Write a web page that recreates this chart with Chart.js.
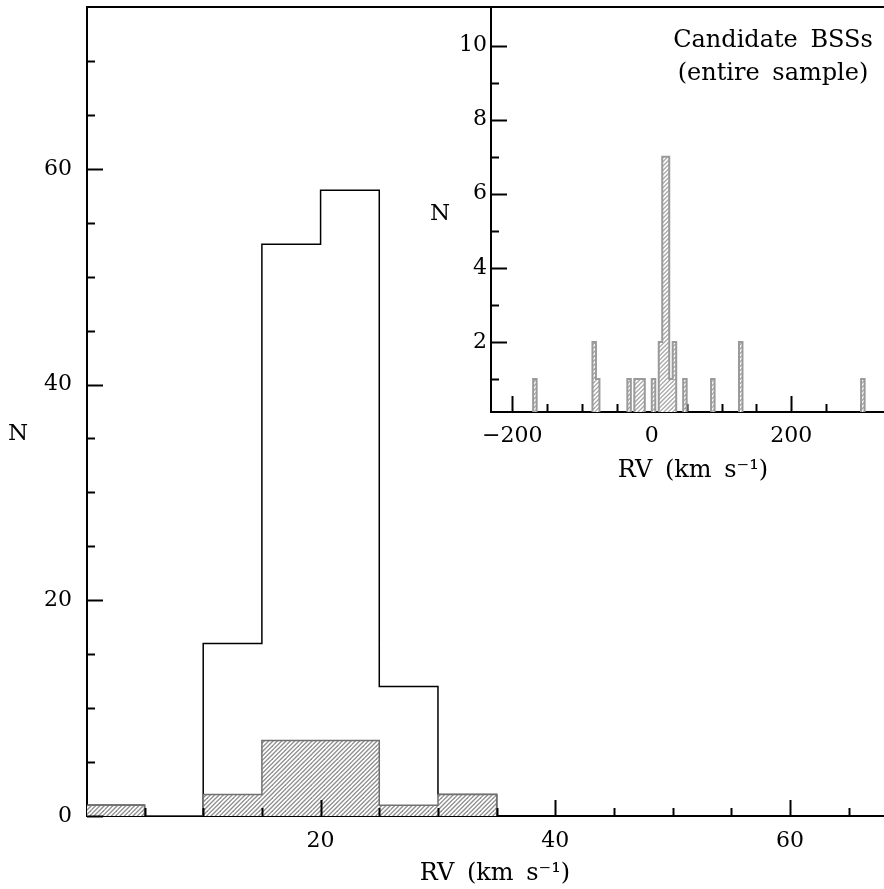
<!DOCTYPE html>
<html>
<head>
<meta charset="utf-8">
<script src="https://cdn.jsdelivr.net/npm/chart.js@4.4.1/dist/chart.umd.min.js"></script>
<style>
  html, body { margin: 0; padding: 0; background: #fff; overflow: hidden; }
  #wrap { position: relative; width: 884px; height: 889px; }
  #mainChart { position: absolute; left: 0; top: 0; }
  #insetChart { position: absolute; left: 400px; top: 0; }
</style>
</head>
<body>
<div id="wrap">
  <canvas id="mainChart" width="884" height="889"></canvas>
  <canvas id="insetChart" width="484" height="500"></canvas>
</div>
<script>
// radial velocity histograms, 5 km/s bins given by their left edge
const binWidth = 5;
const mainBinStart = [0, 10, 15, 20, 25, 30];
const mainAll = [1, 16, 53, 58, 12, 2];
const mainBss = [1, 2, 7, 7, 1, 2];

const insetBinStart = [-170, -85, -80, -35, -25, -20, -15, 0, 10, 15, 20, 25, 30, 45, 85, 125, 300];
const insetBss = [1, 2, 1, 1, 1, 1, 1, 1, 2, 7, 7, 1, 2, 1, 1, 2, 1];

// tick marks and the ones that carry a label
const mainXTicks = [5, 10, 15, 20, 25, 30, 35, 40, 45, 50, 55, 60, 65];
const mainXLabels = [20, 40, 60];
const mainYTicks = [0, 5, 10, 15, 20, 25, 30, 35, 40, 45, 50, 55, 60, 65, 70];
const mainYLabels = [0, 20, 40, 60];
const insetXTicks = [-200, -150, -100, -50, 0, 50, 100, 150, 200, 250, 300];
const insetXLabels = [-200, 0, 200];
const insetYTicks = [1, 2, 3, 4, 5, 6, 7, 8, 9, 10];
const insetYLabels = [2, 4, 6, 8, 10];

const serif = 'DejaVu Serif';

// histogram outline as step points (horizontal segment first)
function stepPoints(starts, counts) {
  const pts = [{ x: starts[0], y: 0 }];
  starts.forEach((x0, i) => {
    if (i > 0 && starts[i - 1] + binWidth !== x0) pts.push({ x: starts[i - 1] + binWidth, y: 0 });
    pts.push({ x: x0, y: counts[i] });
  });
  pts.push({ x: starts[starts.length - 1] + binWidth, y: 0 });
  return pts;
}

function hatch(color, bg) {
  const size = 13;
  const c = document.createElement('canvas');
  c.width = c.height = size;
  const g = c.getContext('2d');
  if (bg) { g.fillStyle = bg; g.fillRect(0, 0, size, size); }
  g.strokeStyle = color;
  g.lineWidth = 1.3;
  const step = size / 3;
  for (let k = -1; k <= 7; k++) {
    const c0 = k * step;
    g.beginPath();
    g.moveTo(c0 + 3, -3);
    g.lineTo(-3, c0 + 3);
    g.stroke();
  }
  return g.createPattern(c, 'repeat');
}

// inward tick marks, plus the top frame line
const innerTicks = {
  id: 'innerTicks',
  drawTicks(chart, opts) {
    const { ctx, chartArea: a } = chart;
    const xs = chart.scales.x, ys = chart.scales.y;
    ctx.save();
    ctx.strokeStyle = '#000';
    ctx.lineWidth = 2;
    ctx.lineCap = 'butt';
    xs.ticks.forEach(t => {
      const px = Math.round(xs.getPixelForValue(t.value)) + 0.5;
      const len = opts.xMajor.includes(t.value) ? 16 : 8;
      ctx.beginPath(); ctx.moveTo(px, a.bottom); ctx.lineTo(px, a.bottom - len); ctx.stroke();
    });
    ys.ticks.forEach(t => {
      const py = Math.round(ys.getPixelForValue(t.value)) + 0.5;
      const len = opts.yMajor.includes(t.value) ? 16 : 8;
      ctx.beginPath(); ctx.moveTo(a.left, py); ctx.lineTo(a.left + len, py); ctx.stroke();
    });
    if (opts.topFrame) {
      ctx.beginPath(); ctx.moveTo(a.left - 1, a.top); ctx.lineTo(chart.width, a.top); ctx.stroke();
    }
    ctx.restore();
  },
  beforeDatasetsDraw(chart, args, opts) { if (!opts.onTop) this.drawTicks(chart, opts); },
  afterDatasetsDraw(chart, args, opts) { if (opts.onTop) this.drawTicks(chart, opts); }
};

// free-standing text: axis titles and the annotation
const freeText = {
  id: 'freeText',
  afterDraw(chart, args, opts) {
    const ctx = chart.ctx;
    ctx.save();
    ctx.fillStyle = '#000';
    ctx.textBaseline = 'alphabetic';
    if ('wordSpacing' in ctx) ctx.wordSpacing = '5px';
    opts.items.forEach(it => {
      ctx.font = it.font;
      ctx.textAlign = it.align || 'center';
      ctx.fillText(it.text, it.x, it.y);
    });
    ctx.restore();
  }
};

function noEdgePadding(s) {
  s.paddingTop = 0; s.paddingBottom = 0; s.paddingLeft = 0; s.paddingRight = 0;
}

function axisX(min, max, ticks, labels, height, pad, fmt) {
  return {
    type: 'linear', min, max, z: 1, offset: false,
    afterBuildTicks: s => { s.ticks = ticks.map(v => ({ value: v })); },
    afterFit: s => { s.height = height; noEdgePadding(s); },
    grid: { display: false, drawTicks: false, offset: false },
    border: { display: true, color: '#000', width: 2 },
    ticks: {
      autoSkip: false, maxRotation: 0, padding: pad, color: '#000',
      font: { family: serif, size: 22 },
      callback: v => labels.includes(v) ? fmt(v) : ''
    }
  };
}

function axisY(min, max, ticks, labels, width, pad) {
  return {
    type: 'linear', min, max, z: 1,
    afterBuildTicks: s => { s.ticks = ticks.map(v => ({ value: v })); },
    afterFit: s => { s.width = width; noEdgePadding(s); },
    grid: { display: false, drawTicks: false },
    border: { display: true, color: '#000', width: 2 },
    ticks: {
      autoSkip: false, padding: pad, color: '#000',
      font: { family: serif, size: 22 },
      callback: v => labels.includes(v) ? String(v) : ''
    }
  };
}

const minus = v => (v < 0 ? '\u2212' + Math.abs(v) : String(v));

new Chart(document.getElementById('mainChart'), {
  type: 'line',
  data: {
    datasets: [{
      label: 'Candidate BSSs',
      data: stepPoints(mainBinStart, mainBss),
      stepped: true,
      fill: 'origin',
      backgroundColor: hatch('#8c8c8c', '#ffffff'),
      borderColor: '#707070',
      borderWidth: 1.5,
      pointRadius: 0,
      order: 0
    }, {
      label: 'All stars',
      data: stepPoints(mainBinStart, mainAll),
      stepped: true,
      fill: false,
      borderColor: '#000',
      borderWidth: 1.5,
      pointRadius: 0,
      order: 1
    }]
  },
  options: {
    responsive: false,
    animation: false,
    layout: { padding: { top: 7, right: 0, left: 0, bottom: 0 } },
    scales: {
      x: axisX(0.1, 68, mainXTicks, mainXLabels, 73, 12, String),
      y: axisY(0, 75, mainYTicks, mainYLabels, 87, 15)
    },
    plugins: {
      legend: { display: false },
      tooltip: { enabled: false },
      innerTicks: { xMajor: mainXLabels, yMajor: mainYLabels, onTop: true, topFrame: true },
      freeText: {
        items: [
          { text: 'RV (km s\u207B\u00B9)', x: 495, y: 880, font: '24px "DejaVu Serif"' },
          { text: 'N', x: 18, y: 440, font: '23px "DejaVu Serif"' }
        ]
      }
    }
  },
  plugins: [innerTicks, freeText]
});

new Chart(document.getElementById('insetChart'), {
  type: 'line',
  data: {
    datasets: [{
      label: 'Candidate BSSs (entire sample)',
      data: stepPoints(insetBinStart, insetBss),
      stepped: true,
      fill: 'origin',
      backgroundColor: hatch('#a6a6a6', '#ffffff'),
      borderColor: '#9a9a9a',
      borderWidth: 2,
      pointRadius: 0
    }]
  },
  options: {
    responsive: false,
    animation: false,
    layout: { padding: { top: 7, right: 0, left: 0, bottom: 0 } },
    scales: {
      x: axisX(-230.4, 332.8, insetXTicks, insetXLabels, 88, 11, minus),
      y: axisY(0.11, 11.04, insetYTicks, insetYLabels, 91, 4)
    },
    plugins: {
      legend: { display: false },
      tooltip: { enabled: false },
      innerTicks: { xMajor: insetXLabels, yMajor: insetYLabels, onTop: false, topFrame: false },
      freeText: {
        items: [
          { text: 'RV (km s\u207B\u00B9)', x: 293, y: 477, font: '24px "DejaVu Serif"' },
          { text: 'N', x: 40, y: 220, font: '23px "DejaVu Serif"' },
          { text: 'Candidate BSSs', x: 373, y: 47, font: '24px "DejaVu Serif"' },
          { text: '(entire sample)', x: 373, y: 80, font: '24px "DejaVu Serif"' }
        ]
      }
    }
  },
  plugins: [innerTicks, freeText]
});
</script>
</body>
</html>
